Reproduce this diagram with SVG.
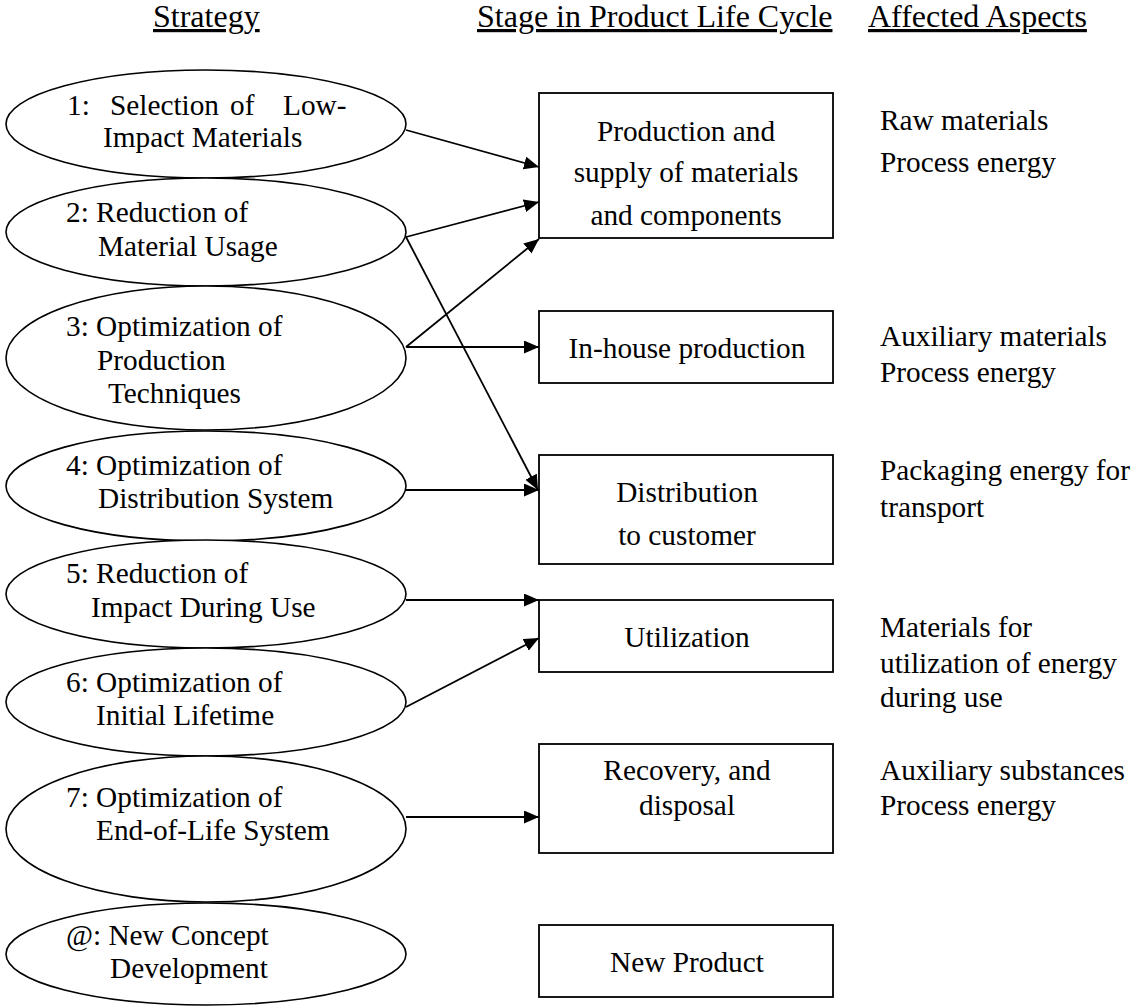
<svg xmlns="http://www.w3.org/2000/svg" width="1132" height="1006" viewBox="0 0 1132 1006">
<style>
text{font-family:"Liberation Serif","Times New Roman",serif;font-size:29.3px;fill:#000}
.hd{font-size:32px;text-decoration:underline}
.el{fill:#fff;stroke:#000;stroke-width:1.6}
.bx{fill:#fff;stroke:#000;stroke-width:1.8}
.c{text-anchor:middle}
.ln{stroke:#000;stroke-width:1.8;fill:none;marker-end:url(#ah)}
</style>
<defs>
<marker id="ah" markerUnits="userSpaceOnUse" markerWidth="16" markerHeight="14" refX="15" refY="6.5" orient="auto">
<path d="M0,0 L15,6.5 L0,13 z" fill="#000"/>
</marker>
<clipPath id="cb1"><rect x="539" y="93" width="294" height="143"/></clipPath>
</defs>
<rect width="1132" height="1006" fill="#fff"/>
<g id="headers">
<text class="hd" x="153" y="27">Strategy</text>
<text class="hd" x="477" y="27">Stage in Product Life Cycle</text>
<text class="hd" x="868" y="27">Affected Aspects</text>
</g>
<g id="s1"><ellipse class="el" cx="206" cy="124" rx="200" ry="54"/>
<text y="115"><tspan x="67">1:</tspan><tspan x="110">Selection</tspan><tspan x="230">of</tspan><tspan x="283">Low-</tspan></text>
<text x="103" y="147">Impact Materials</text></g>
<g id="s2"><ellipse class="el" cx="206" cy="232" rx="200" ry="54"/>
<text x="66" y="222">2: Reduction of</text><text x="98" y="256">Material Usage</text></g>
<g id="s3"><ellipse class="el" cx="206" cy="358" rx="200" ry="72"/>
<text x="66" y="336">3: Optimization of</text><text x="97" y="370">Production</text><text x="108" y="403">Techniques</text></g>
<g id="s4"><ellipse class="el" cx="206" cy="486" rx="200" ry="55"/>
<text x="66" y="475">4: Optimization of</text><text x="98" y="508">Distribution System</text></g>
<g id="s5"><ellipse class="el" cx="206" cy="594" rx="200" ry="54"/>
<text x="66" y="583">5: Reduction of</text><text x="91" y="617">Impact During Use</text></g>
<g id="s6"><ellipse class="el" cx="206" cy="702" rx="200" ry="54"/>
<text x="66" y="692">6: Optimization of</text><text x="96" y="725">Initial Lifetime</text></g>
<g id="s7"><ellipse class="el" cx="206" cy="829" rx="200" ry="73"/>
<text x="66" y="807">7: Optimization of</text><text x="96" y="840">End-of-Life System</text></g>
<g id="s8"><ellipse class="el" cx="206" cy="954" rx="200" ry="51"/>
<text x="66" y="945">@: New Concept</text><text x="110" y="978">Development</text></g>
<g id="b1"><rect class="bx" x="539" y="93" width="294" height="145"/>
<g clip-path="url(#cb1)"><text class="c" x="686" y="141">Production and</text><text class="c" x="686" y="182">supply of materials</text><text class="c" x="686" y="225">and components</text></g></g>
<g id="b2"><rect class="bx" x="539" y="311" width="294" height="72"/>
<text class="c" x="687" y="358">In-house production</text></g>
<g id="b3"><rect class="bx" x="539" y="455" width="294" height="109"/>
<text class="c" x="687" y="502">Distribution</text><text class="c" x="687" y="545">to customer</text></g>
<g id="b4"><rect class="bx" x="539" y="600" width="294" height="72"/>
<text class="c" x="687" y="647">Utilization</text></g>
<g id="b5"><rect class="bx" x="539" y="744" width="294" height="109"/>
<text class="c" x="687" y="780">Recovery, and</text><text class="c" x="687" y="815">disposal</text></g>
<g id="b6"><rect class="bx" x="539" y="925" width="294" height="72"/>
<text class="c" x="687" y="972">New Product</text></g>
<g id="aspects">
<text x="880" y="130">Raw materials</text><text x="880" y="172">Process energy</text>
<text x="880" y="346">Auxiliary materials</text><text x="880" y="382">Process energy</text>
<text x="880" y="480">Packaging energy for</text><text x="880" y="517">transport</text>
<text x="880" y="637">Materials for</text><text x="880" y="673">utilization of energy</text><text x="880" y="707">during use</text>
<text x="880" y="780">Auxiliary substances</text><text x="880" y="815">Process energy</text>
</g>
<g id="connectors">
<line class="ln" x1="406" y1="130" x2="539" y2="167"/>
<line class="ln" x1="406" y1="237" x2="539" y2="202"/>
<line class="ln" x1="406" y1="347" x2="539" y2="239"/>
<line class="ln" x1="406" y1="347" x2="539" y2="347"/>
<line class="ln" x1="406" y1="237" x2="538" y2="490"/>
<line class="ln" x1="406" y1="490" x2="539" y2="490"/>
<line class="ln" x1="406" y1="600" x2="539" y2="600"/>
<line class="ln" x1="406" y1="707" x2="539" y2="638"/>
<line class="ln" x1="406" y1="817" x2="539" y2="817"/>
</g>
</svg>
